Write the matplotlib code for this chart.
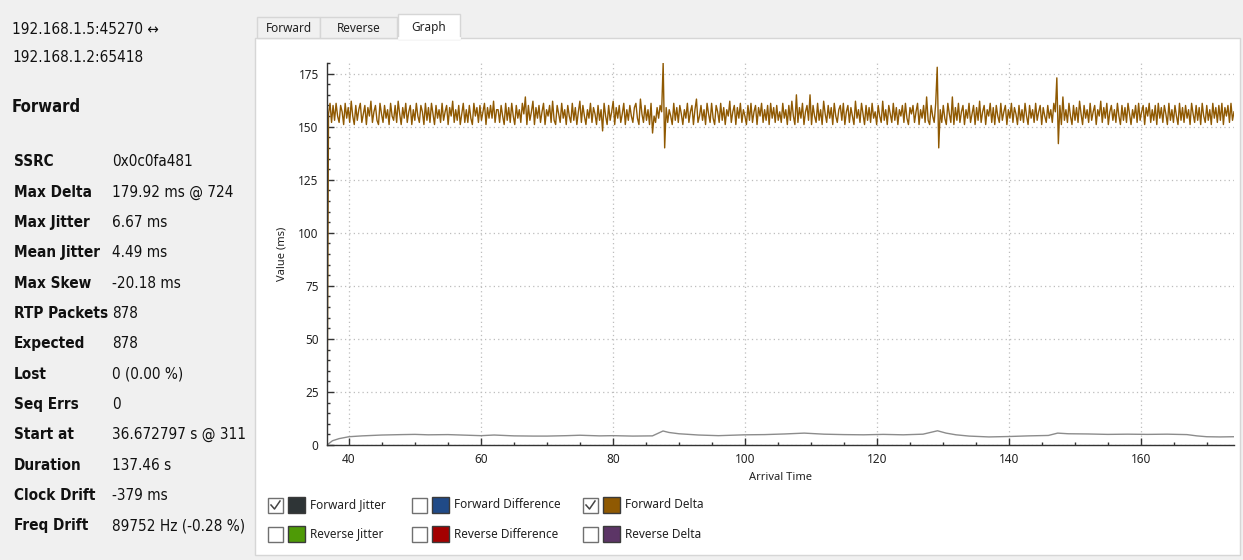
import matplotlib.pyplot as plt
import numpy as np
from matplotlib.patches import Rectangle
from matplotlib.ticker import MultipleLocator

W, H = 1243, 560

# stream summary (left panel)
endpoints = ["192.168.1.5:45270 \u2194", "192.168.1.2:65418"]
stats_labels = ["SSRC", "Max Delta", "Max Jitter", "Mean Jitter", "Max Skew", "RTP Packets",
                "Expected", "Lost", "Seq Errs", "Start at", "Duration", "Clock Drift", "Freq Drift"]
stats_values = ["0x0c0fa481", "179.92 ms @ 724", "6.67 ms", "4.49 ms", "-20.18 ms", "878",
                "878", "0 (0.00 %)", "0", "36.672797 s @ 311", "137.46 s", "-379 ms",
                "89752 Hz (-0.28 %)"]

start_time = 36.672797
duration = 137.46

# forward delta (ms), sampled evenly over the stream
forward_delta = [
    0, 156, 161, 152, 160, 153, 161, 155, 152, 160, 157, 151, 161, 154, 159, 152, 162, 155, 151, 160,
    153, 158, 161, 152, 156, 160, 151, 159, 155, 162, 152, 157, 160, 153, 151, 161, 156, 152, 160, 154,
    158, 151, 161, 155, 153, 160, 152, 162, 156, 151, 159, 154, 161, 152, 157, 160, 151, 158, 153, 161,
    155, 152, 160, 157, 151, 161, 153, 159, 152, 161, 156, 151, 160, 154, 158, 152, 161, 153, 157, 160,
    151, 159, 155, 162, 152, 158, 153, 160, 151, 156, 161, 152, 158, 152, 160, 154, 151, 161, 155, 159,
    152, 160, 153, 157, 161, 151, 159, 154, 160, 154, 162, 152, 158, 158, 152, 160, 155, 151, 161, 153,
    159, 152, 161, 155, 151, 160, 154, 158, 152, 161, 156, 164, 151, 160, 153, 157, 162, 151, 159, 154,
    160, 152, 157, 161, 151, 158, 155, 160, 152, 162, 153, 151, 160, 156, 152, 161, 154, 158, 151, 160,
    155, 152, 161, 153, 159, 151, 157, 162, 152, 160, 155, 151, 158, 154, 161, 152, 159, 156, 151, 160,
    153, 158, 148, 161, 155, 151, 160, 153, 157, 162, 151, 159, 154, 160, 152, 156, 161, 151, 158, 153,
    160, 155, 152, 159, 161, 154, 151, 163, 156, 152, 160, 153, 158, 151, 161, 147, 155, 152, 159, 154,
    160, 157, 180, 140, 159, 152, 158, 155, 151, 161, 153, 159, 152, 160, 156, 151, 158, 154, 161, 152,
    157, 160, 151, 158, 163, 152, 155, 160, 153, 158, 151, 161, 156, 152, 161, 154, 151, 160, 157, 152,
    161, 153, 159, 151, 158, 155, 162, 152, 157, 160, 151, 159, 154, 161, 152, 158, 155, 151, 160, 153,
    161, 152, 157, 160, 151, 159, 155, 161, 152, 158, 153, 160, 151, 161, 154, 159, 152, 160, 153, 157,
    152, 161, 154, 158, 151, 160, 153, 162, 155, 151, 165, 152, 159, 154, 161, 151, 157, 160, 153, 165,
    151, 160, 155, 152, 161, 153, 158, 151, 162, 156, 152, 160, 154, 159, 151, 161, 155, 152, 158, 160,
    153, 161, 151, 157, 160, 152, 159, 155, 151, 162, 154, 158, 152, 161, 156, 151, 160, 153, 159, 152,
    161, 154, 157, 151, 160, 155, 152, 162, 153, 158, 151, 160, 156, 152, 161, 153, 159, 151, 158, 155,
    160, 152, 161, 154, 151, 159, 156, 160, 152, 157, 161, 151, 158, 154, 160, 152, 164, 153, 151, 160,
    155, 152, 161, 178, 140, 158, 152, 160, 154, 151, 161, 156, 152, 164, 151, 159, 153, 161, 152, 157,
    160, 151, 158, 154, 161, 152, 156, 160, 151, 159, 153, 162, 152, 157, 160, 151, 158, 155, 161, 152,
    159, 151, 160, 155, 152, 161, 153, 157, 160, 151, 158, 154, 161, 152, 159, 156, 151, 160, 153, 158,
    152, 161, 155, 151, 160, 154, 158, 152, 161, 153, 157, 160, 151, 159, 155, 152, 160, 154, 158, 152,
    161, 157, 173, 142, 160, 151, 164, 153, 158, 152, 161, 155, 151, 160, 153, 159, 152, 162, 156, 151,
    160, 154, 158, 152, 161, 153, 157, 160, 151, 158, 155, 162, 152, 159, 154, 161, 151, 157, 160, 153,
    158, 152, 161, 155, 151, 160, 153, 159, 152, 161, 156, 151, 158, 154, 160, 152, 161, 153, 157, 160,
    151, 159, 155, 161, 152, 158, 153, 160, 151, 161, 154, 159, 152, 160, 156, 151, 161, 153, 158, 152,
    160, 155, 151, 161, 153, 159, 152, 160, 154, 158, 151, 161, 156, 152, 160, 153, 159, 151, 161, 155,
    152, 160, 153, 158, 151, 161, 154, 159, 152, 160, 153, 161, 151, 159, 155, 160, 152, 161, 153, 157,
]

jitter_time = [36.67, 37.5, 38.5, 40, 42, 45, 48, 50, 52, 55, 58, 60, 62, 65, 68, 70, 73, 75, 78, 80,
               83, 86, 87.6, 88.5, 90, 93, 96, 100, 103, 106, 109, 112, 115, 118, 121, 124, 127,
               129.2, 130.5, 132, 134, 137, 140, 143, 146, 147.4, 149, 152, 155, 158, 161, 164, 167,
               168.5, 170, 172, 174.13]
jitter_ms = [0, 2.0, 3.0, 3.9, 4.3, 4.7, 4.9, 5.0, 4.8, 4.9, 4.6, 4.4, 4.7, 4.3, 4.2, 4.2, 4.4, 4.6, 4.3, 4.4,
             4.2, 4.3, 6.6, 5.9, 5.3, 4.7, 4.4, 4.8, 4.9, 5.2, 5.6, 5.1, 4.9, 4.8, 5.0, 4.8, 5.1,
             6.7, 5.6, 4.8, 4.2, 3.8, 4.0, 4.3, 4.5, 5.6, 5.3, 5.2, 5.0, 5.1, 5.0, 5.1, 4.9,
             4.3, 3.9, 3.8, 3.9]

legend_names = [["Forward Jitter", "Forward Difference", "Forward Delta"],
                ["Reverse Jitter", "Reverse Difference", "Reverse Delta"]]
legend_colors = [["#2e3436", "#204a87", "#8f5902"],
                 ["#4e9a06", "#a40000", "#5c3566"]]
legend_checked = [[True, False, True],
                  [False, False, False]]

tab_names = ["Forward", "Reverse", "Graph"]

fig = plt.figure(figsize=(W / 100, H / 100), dpi=100)
fig.patch.set_facecolor('#f0f0f0')

# background layer in pixel coordinates
bg = fig.add_axes([0, 0, 1, 1])
bg.set_xlim(0, W)
bg.set_ylim(H, 0)
bg.axis('off')

side_font = dict(family='DejaVu Sans', fontstretch='condensed', color='#111111')
bg.text(12, 30, endpoints[0], fontsize=11, va='center', **side_font)
bg.text(12, 57, endpoints[1], fontsize=11, va='center', **side_font)
bg.text(12, 107, "Forward", fontsize=12, fontweight='bold', va='center', **side_font)
for i, (lab, val) in enumerate(zip(stats_labels, stats_values)):
    y = 162 + i * 30.3
    bg.text(14, y, lab, fontsize=11, fontweight='bold', va='center', **side_font)
    bg.text(112, y, val, fontsize=11, va='center', **side_font)

# tab pane
bg.add_patch(Rectangle((255, 38), 985, 517, facecolor='white', edgecolor='#d6d6d6', lw=1))
tab_x = [257, 320, 398]
tab_w = [63, 77, 62]
for i, name in enumerate(tab_names):
    sel = name == "Graph"
    top = 14 if sel else 17
    bg.add_patch(Rectangle((tab_x[i], top), tab_w[i], 38 - top + (1 if sel else 0),
                           facecolor='white' if sel else '#f0f0f0',
                           edgecolor='#d6d6d6', lw=1, zorder=3 if sel else 2))
    bg.text(tab_x[i] + tab_w[i] / 2, (top + 38) / 2 + 1, name, ha='center', va='center',
            fontsize=8.5, family='Noto Sans', color='#222222', zorder=4)
bg.plot([399, 459], [38, 38], color='white', lw=2, zorder=5)

# legend with checkboxes
col_x = [268, 412, 583]
row_y = [505, 534]
for r in range(2):
    for c in range(3):
        x0, yc = col_x[c], row_y[r]
        bg.add_patch(Rectangle((x0, yc - 7.5), 15, 15, facecolor='white', edgecolor='#707070', lw=1))
        if legend_checked[r][c]:
            bg.plot([x0 + 3, x0 + 6.5, x0 + 12], [yc, yc + 4, yc - 4], color='#444444', lw=1.1)
        bg.add_patch(Rectangle((x0 + 20, yc - 8), 17, 16, facecolor=legend_colors[r][c],
                               edgecolor='#3a3a3a', lw=1))
        bg.text(x0 + 42, yc, legend_names[r][c], va='center', fontsize=8.5,
                family='Noto Sans', color='#222222')

# graph
ax = fig.add_axes([327 / W, (H - 445) / H, (1234 - 327) / W, (445 - 63) / H])
ax.set_facecolor('white')
delta_time = np.linspace(start_time, start_time + duration, len(forward_delta))
ax.plot(delta_time, forward_delta, color='#8f5902', lw=1)
ax.plot(jitter_time, jitter_ms, color='#8c8c8c', lw=1)

ax.set_xlim(start_time, start_time + duration)
ax.set_ylim(0, 180)
ax.xaxis.set_major_locator(MultipleLocator(20))
ax.xaxis.set_minor_locator(MultipleLocator(5))
ax.yaxis.set_major_locator(MultipleLocator(25))
ax.yaxis.set_minor_locator(MultipleLocator(5))
ax.grid(True, which='major', linestyle=(0, (1, 2.5)), color='#bdbdbd', lw=0.9)
ax.set_axisbelow(True)

for s in ['top', 'right']:
    ax.spines[s].set_visible(False)
for s in ['left', 'bottom']:
    ax.spines[s].set_color('#333333')
    ax.spines[s].set_linewidth(1)
ax.tick_params(which='major', direction='in', length=5, width=1, color='#333333',
               labelsize=8.5, labelcolor='#222222', pad=6)
ax.tick_params(which='minor', direction='in', length=2.5, width=1, color='#333333')
for lbl in ax.get_xticklabels() + ax.get_yticklabels():
    lbl.set_family('Noto Sans')

ax.set_xlabel("Arrival Time", fontsize=8, family='Noto Sans', color='#222222', labelpad=4)
ax.set_ylabel("Value (ms)", fontsize=8, family='Noto Sans', color='#222222', labelpad=8)

fig.savefig('out.png', dpi=100, facecolor=fig.get_facecolor())
